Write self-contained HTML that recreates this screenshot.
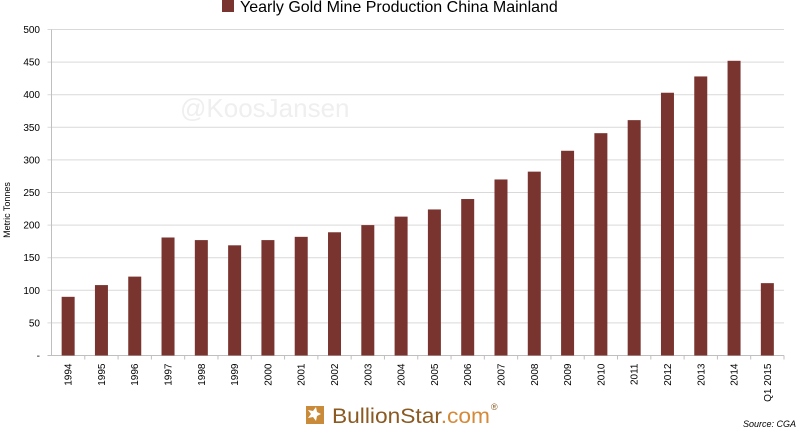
<!DOCTYPE html>
<html><head><meta charset="utf-8"><style>
body{margin:0;background:#fff;font-family:"Liberation Sans",sans-serif}
svg{display:block}
</style></head><body>
<svg width="800" height="432" viewBox="0 0 800 432">
<rect width="800" height="432" fill="#fff"/>
<g>
<rect x="222" y="0" width="12" height="12" fill="#7a3430"/>
<text x="240" y="12" font-size="16" fill="#000">Yearly Gold Mine Production China Mainland</text>
</g>
<text x="180" y="117" font-size="26" fill="#efefef">@KoosJansen</text>
<g id="grid"></g>
<g id="bars"></g>
<g id="xlabels"></g>
<text transform="translate(10,210) rotate(-90)" font-size="9" text-anchor="middle" fill="#000">Metric Tonnes</text>
<g>
<path d="M306 406 h18 v18 h-18 z" fill="#c98a3a"/>
<path d="M308 410 l5 1 l3 -4 l1 5 l4 2 l-4 2 l-1 5 l-3 -4 l-5 1 l3 -4 z" fill="#fff"/>
<text x="332" y="423" font-size="21" fill="#8a5a22" textLength="158" lengthAdjust="spacingAndGlyphs">BullionStar<tspan fill="#d58a3a">.com</tspan></text>
<text x="491" y="410" font-size="9" fill="#8a5a22">®</text>
</g>
<text x="796" y="427" font-size="9" font-style="italic" text-anchor="end" fill="#000">Source: CGA</text>
</svg>
<script>
const categories=["1994","1995","1996","1997","1998","1999","2000","2001","2002","2003","2004","2005","2006","2007","2008","2009","2010","2011","2012","2013","2014","Q1 2015"];
const values=[90,108,121,181,177,169,177,182,189,200,213,224,240,270,282,314,341,361,403,428,452,111];
const yTicks=[0,50,100,150,200,250,300,350,400,450,500];
const yTickLabels=["-","50","100","150","200","250","300","350","400","450","500"];
const NS="http://www.w3.org/2000/svg";
const x0=51.5,x1=784,yBase=355.5,yTop=29.5,yMax=500;
const bw=(x1-x0)/categories.length;
function y(v){return yBase-(v/yMax)*(yBase-yTop);}
function xc(i){return x0+bw*(i+0.5);}
function mk(t,a,p){const e=document.createElementNS(NS,t);for(const k in a)e.setAttribute(k,a[k]);p.appendChild(e);return e;}
const grid=document.getElementById('grid'),bars=document.getElementById('bars'),xl=document.getElementById('xlabels');
yTicks.forEach((v,i)=>{
 if(v>0){const l=mk('line',{x1:x0-4,x2:x1,y1:y(v),y2:y(v),stroke:'#d9d9d9','stroke-width':1},grid);
 
 }
 const t=mk('text',{x:40,y:y(v)+3.5,'font-size':10,'text-anchor':'end',fill:'#000'},grid);
 t.textContent=yTickLabels[i];
 
 
});
mk('line',{x1:x0,x2:x0,y1:yTop,y2:yBase,stroke:'#bfbfbf'},grid);
mk('line',{x1:x0-4,x2:x1,y1:yBase,y2:yBase,stroke:'#bfbfbf'},grid);
categories.forEach((c,i)=>{
 const tk=mk('line',{x1:x0+bw*(i+1),x2:x0+bw*(i+1),y1:yBase,y2:yBase+4,stroke:'#bfbfbf'},grid);
 const r=mk('rect',{x:xc(i)-6.5,y:y(values[i]),width:13,height:yBase-y(values[i]),fill:'#7a3430'},bars);
 
 
 const t=mk('text',{transform:`translate(${xc(i)+3.5},${yBase+8}) rotate(-90)`,'font-size':10,'text-anchor':'end',fill:'#000'},xl);
 t.textContent=c;
 
 
});
</script>
</body></html>
